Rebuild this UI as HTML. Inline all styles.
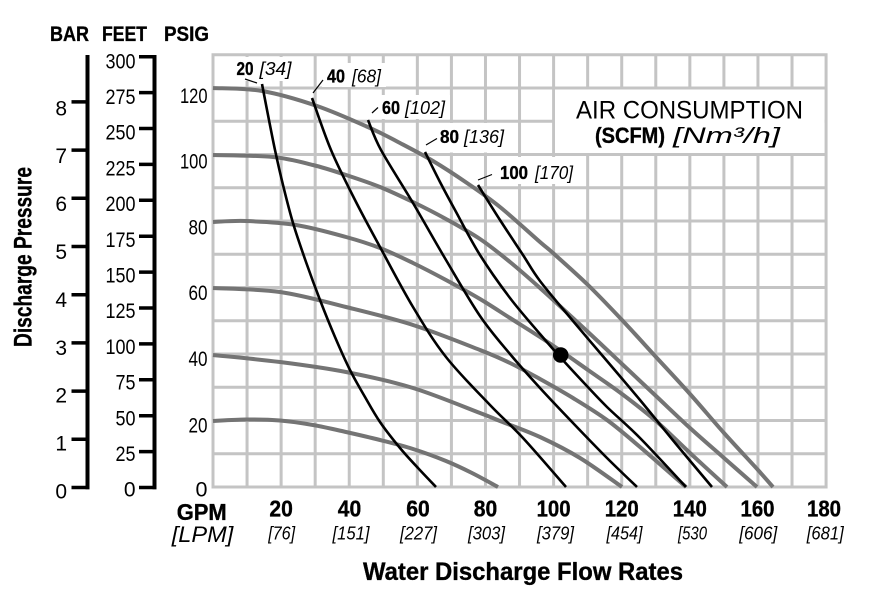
<!DOCTYPE html>
<html>
<head>
<meta charset="utf-8">
<style>
html,body{margin:0;padding:0;background:#fff;}
svg{display:block;}
text{font-family:"Liberation Sans",Arial,sans-serif;fill:#000;}
.b{font-weight:bold;stroke:#000;stroke-width:0.35;}
</style>
</head>
<body>
<svg xmlns="http://www.w3.org/2000/svg" width="875" height="592" viewBox="0 0 875 592">
<rect width="875" height="592" fill="#fff"/>

<!-- grid -->
<g stroke="#c4c4c4" stroke-width="3" fill="none">
<path d="M247.06 54.75V487 M281.12 54.75V487 M315.18 54.75V487 M349.24 54.75V487 M383.3 54.75V487 M417.36 54.75V487 M451.42 54.75V487 M485.48 54.75V487 M519.54 54.75V487 M553.6 54.75V487 M587.66 54.75V487 M621.72 54.75V487 M655.78 54.75V487 M689.84 54.75V487 M723.9 54.75V487 M757.96 54.75V487 M792.02 54.75V487
M213 453.75H826.08 M213 420.5H826.08 M213 387.25H826.08 M213 354H826.08 M213 320.75H826.08 M213 287.5H826.08 M213 254.25H826.08 M213 221H826.08 M213 187.75H826.08 M213 154.5H826.08 M213 121.25H826.08 M213 88H826.08"/>
<rect x="213" y="54.75" width="613.08" height="432.25"/>
</g>

<!-- white label boxes -->
<g fill="#fff">
<rect x="232" y="57" width="64" height="24"/>
<rect x="322" y="63" width="64" height="24"/>
<rect x="377" y="95" width="73" height="24"/>
<rect x="434" y="123" width="77" height="29.5"/>
<rect x="490" y="157" width="90" height="27"/>
<rect x="555" y="89.5" width="269.5" height="63.5"/>
</g>

<!-- gray pump curves -->
<g stroke="#747474" stroke-width="4" fill="none" stroke-linejoin="round" class="sm">
<polyline points="213,88 262,91 317,106 370,128 400,143 433,161 467,183 500,207 540,242 553,253 588,285 622,320 656,357 690,394 724,433 758,470 773,487"/>
<polyline points="213,155 273,157 313,165 346,175 380,187 413,202 446,219 480,239 510,262 540,288 588,332 622,364 656,396 690,428 724,458 757,487"/>
<polyline points="213,222 246,221 296,225 346,237 380,248 413,263 446,280 480,299 510,318 540,337 561,351 588,370 622,394 656,421 690,453 727,487"/>
<polyline points="213,288 280,292 346,307 413,325 480,350 510,363 540,379 573,398 607,420 640,447 686,487"/>
<polyline points="213,355 280,362 346,372 413,388 480,413 500,421 540,437 580,458 622,487"/>
<polyline points="213,421 246,419.5 280,420.5 313,425 346,432 380,440 413,449 446,461 472,473 498,487"/>
</g>

<!-- black air consumption curves -->
<g stroke="#000" stroke-width="2.6" fill="none" stroke-linejoin="round" class="sm">
<polyline points="262,84 268,115 275,150 283,185 293,223 306,262 320,300 335,337 350,370 365,397 380,422 400,448 418,468 436,487"/>
<polyline points="312,98 331,150 355,200 380,247 413,307 446,357 490,405 523,438 566,487"/>
<polyline points="368,120 381,150 413,203 446,260 480,316 510,354 540,388 573,423 607,458 637,487"/>
<polyline points="425,152 440,182 455,210 480,255 510,298 540,334 561,358 585,384 607,407 640,438 686,487"/>
<polyline points="478,185 500,220 523,255 540,281 573,321 607,361 640,400 676,444 712,487"/>
</g>

<circle cx="560.7" cy="355" r="7.8" fill="#000"/>

<!-- leaders -->
<g stroke="#000" stroke-width="1.2">
<line x1="245" y1="79" x2="257" y2="83"/>
<line x1="313" y1="93" x2="323" y2="80"/>
<line x1="372" y1="113" x2="378" y2="107.5"/>
<line x1="426" y1="145" x2="437" y2="138.5"/>
<line x1="478" y1="180" x2="492" y2="174.5"/>
</g>

<!-- legend labels -->
<g font-size="18">
<text class="b" x="236.5" y="75" textLength="17" lengthAdjust="spacingAndGlyphs">20</text>
<text x="259.5" y="75" font-style="italic" textLength="32" lengthAdjust="spacingAndGlyphs">[34]</text>
<text class="b" x="327" y="82.5" textLength="18" lengthAdjust="spacingAndGlyphs">40</text>
<text x="352" y="82.5" font-style="italic" textLength="29" lengthAdjust="spacingAndGlyphs">[68]</text>
<text class="b" x="382" y="114" textLength="18" lengthAdjust="spacingAndGlyphs">60</text>
<text x="405" y="114" font-style="italic" textLength="40" lengthAdjust="spacingAndGlyphs">[102]</text>
<text class="b" x="440" y="143" textLength="19" lengthAdjust="spacingAndGlyphs">80</text>
<text x="464" y="143" font-style="italic" textLength="40" lengthAdjust="spacingAndGlyphs">[136]</text>
<text class="b" x="500" y="179" textLength="28" lengthAdjust="spacingAndGlyphs">100</text>
<text x="535" y="179" font-style="italic" textLength="38" lengthAdjust="spacingAndGlyphs">[170]</text>
</g>

<!-- air consumption title -->
<text x="576" y="118.3" font-size="25" textLength="227" lengthAdjust="spacingAndGlyphs">AIR CONSUMPTION</text>
<text class="b" x="595" y="143" font-size="22.5" textLength="70" lengthAdjust="spacingAndGlyphs">(SCFM)</text>
<text x="673" y="143" font-size="22.5" font-style="italic" textLength="107" lengthAdjust="spacingAndGlyphs">[Nm³/h]</text>

<!-- left axes -->
<g font-size="21.5">
<text class="b" x="50" y="41" textLength="39" lengthAdjust="spacingAndGlyphs">BAR</text>
<text class="b" x="102" y="41" textLength="45" lengthAdjust="spacingAndGlyphs">FEET</text>
<text class="b" x="164" y="41" textLength="45" lengthAdjust="spacingAndGlyphs">PSIG</text>
</g>

<g stroke="#000" fill="none">
<line x1="87.5" y1="55" x2="87.5" y2="489.25" stroke-width="4"/>
<path stroke-width="3.5" d="M71.5 487.5H89.5 M71.5 439.3H87.5 M71.5 391.1H87.5 M71.5 342.9H87.5 M71.5 294.7H87.5 M71.5 246.5H87.5 M71.5 198.3H87.5 M71.5 150.1H87.5 M71.5 101.9H87.5"/>
<line x1="154.5" y1="54.95" x2="154.5" y2="489.25" stroke-width="4"/>
<path stroke-width="3.5" d="M139 487.5H156.5 M139 451.6H154.5 M139 415.7H154.5 M139 379.8H154.5 M139 343.9H154.5 M139 308H154.5 M139 272.1H154.5 M139 236.2H154.5 M139 200.3H154.5 M139 164.4H154.5 M139 128.5H154.5 M139 92.6H154.5 M139 56.7H156.5"/>
</g>

<g font-size="21" text-anchor="end">
<text x="67" y="498.5">0</text>
<text x="67" y="450.6">1</text>
<text x="67" y="402.7">2</text>
<text x="67" y="354.8">3</text>
<text x="67" y="306.9">4</text>
<text x="67" y="259">5</text>
<text x="67" y="211.1">6</text>
<text x="67" y="163.2">7</text>
<text x="67" y="115.3">8</text>
</g>

<g font-size="21" text-anchor="end">
<text x="135.5" y="496.7">0</text>
<text x="135.5" y="461" textLength="20" lengthAdjust="spacingAndGlyphs">25</text>
<text x="135.5" y="425.3" textLength="20" lengthAdjust="spacingAndGlyphs">50</text>
<text x="135.5" y="389.6" textLength="20" lengthAdjust="spacingAndGlyphs">75</text>
<text x="135.5" y="353.9" textLength="30" lengthAdjust="spacingAndGlyphs">100</text>
<text x="135.5" y="318.2" textLength="30" lengthAdjust="spacingAndGlyphs">125</text>
<text x="135.5" y="282.5" textLength="30" lengthAdjust="spacingAndGlyphs">150</text>
<text x="135.5" y="246.8" textLength="30" lengthAdjust="spacingAndGlyphs">175</text>
<text x="135.5" y="211.1" textLength="30" lengthAdjust="spacingAndGlyphs">200</text>
<text x="135.5" y="175.4" textLength="30" lengthAdjust="spacingAndGlyphs">225</text>
<text x="135.5" y="139.7" textLength="30" lengthAdjust="spacingAndGlyphs">250</text>
<text x="135.5" y="104" textLength="30" lengthAdjust="spacingAndGlyphs">275</text>
<text x="135.5" y="68.3" textLength="30" lengthAdjust="spacingAndGlyphs">300</text>
</g>

<g font-size="21.5" text-anchor="end">
<text x="207.5" y="496.5">0</text>
<text x="207.5" y="432.5" textLength="19" lengthAdjust="spacingAndGlyphs">20</text>
<text x="207.5" y="366" textLength="19" lengthAdjust="spacingAndGlyphs">40</text>
<text x="207.5" y="300" textLength="19" lengthAdjust="spacingAndGlyphs">60</text>
<text x="207.5" y="234.5" textLength="19" lengthAdjust="spacingAndGlyphs">80</text>
<text x="207.5" y="168.5" textLength="27.5" lengthAdjust="spacingAndGlyphs">100</text>
<text x="207.5" y="103" textLength="27.5" lengthAdjust="spacingAndGlyphs">120</text>
</g>

<text class="b" transform="translate(31.7,257) rotate(-90)" text-anchor="middle" font-size="25" textLength="180" lengthAdjust="spacingAndGlyphs">Discharge Pressure</text>

<!-- x axis labels -->
<g font-size="23" text-anchor="middle">
<text class="b" x="201.7" y="520" textLength="50" lengthAdjust="spacingAndGlyphs">GPM</text>
<text class="b" x="281.1" y="516.7" textLength="23.5" lengthAdjust="spacingAndGlyphs">20</text>
<text class="b" x="349.5" y="516.7" textLength="23.5" lengthAdjust="spacingAndGlyphs">40</text>
<text class="b" x="418" y="516.7" textLength="23.5" lengthAdjust="spacingAndGlyphs">60</text>
<text class="b" x="485.5" y="516.7" textLength="23.5" lengthAdjust="spacingAndGlyphs">80</text>
<text class="b" x="553.6" y="516.7" textLength="34" lengthAdjust="spacingAndGlyphs">100</text>
<text class="b" x="621.7" y="516.7" textLength="34" lengthAdjust="spacingAndGlyphs">120</text>
<text class="b" x="689.8" y="516.7" textLength="34" lengthAdjust="spacingAndGlyphs">140</text>
<text class="b" x="757.5" y="516.7" textLength="34" lengthAdjust="spacingAndGlyphs">160</text>
<text class="b" x="824" y="516.7" textLength="34" lengthAdjust="spacingAndGlyphs">180</text>
</g>
<g font-size="18" font-style="italic" text-anchor="middle">
<text x="202.5" y="542" font-size="22.5" textLength="61.5" lengthAdjust="spacingAndGlyphs">[LPM]</text>
<text x="281.7" y="539.5" textLength="27" lengthAdjust="spacingAndGlyphs">[76]</text>
<text x="351" y="539.5" textLength="37" lengthAdjust="spacingAndGlyphs">[151]</text>
<text x="418.5" y="539.5" textLength="37" lengthAdjust="spacingAndGlyphs">[227]</text>
<text x="486.5" y="539.5" textLength="37" lengthAdjust="spacingAndGlyphs">[303]</text>
<text x="555.5" y="539.5" textLength="37" lengthAdjust="spacingAndGlyphs">[379]</text>
<text x="624.5" y="539.5" textLength="36" lengthAdjust="spacingAndGlyphs">[454]</text>
<text x="692.5" y="539.5" textLength="29" lengthAdjust="spacingAndGlyphs">[530</text>
<text x="758.3" y="539.5" textLength="38" lengthAdjust="spacingAndGlyphs">[606]</text>
<text x="825.3" y="539.5" textLength="37" lengthAdjust="spacingAndGlyphs">[681]</text>
</g>

<text class="b" x="363" y="580" font-size="25" textLength="320" lengthAdjust="spacingAndGlyphs">Water Discharge Flow Rates</text>
</svg>
<script>
(function(){
  var ns="http://www.w3.org/2000/svg";
  var pls=document.querySelectorAll("g.sm polyline");
  for(var i=0;i<pls.length;i++){
    var pl=pls[i];
    var raw=pl.getAttribute("points").trim().split(/\s+/);
    var p=raw.map(function(s){var a=s.split(",");return [parseFloat(a[0]),parseFloat(a[1])];});
    var d="M"+p[0][0]+" "+p[0][1];
    for(var j=0;j<p.length-1;j++){
      var p0=p[j>0?j-1:j],p1=p[j],p2=p[j+1],p3=p[j+2<p.length?j+2:j+1];
      var c1x=p1[0]+(p2[0]-p0[0])/6,c1y=p1[1]+(p2[1]-p0[1])/6;
      var c2x=p2[0]-(p3[0]-p1[0])/6,c2y=p2[1]-(p3[1]-p1[1])/6;
      d+=" C"+c1x.toFixed(2)+" "+c1y.toFixed(2)+" "+c2x.toFixed(2)+" "+c2y.toFixed(2)+" "+p2[0]+" "+p2[1];
    }
    var path=document.createElementNS(ns,"path");
    path.setAttribute("d",d);
    pl.parentNode.replaceChild(path,pl);
  }
})();
</script>
</body>
</html>
